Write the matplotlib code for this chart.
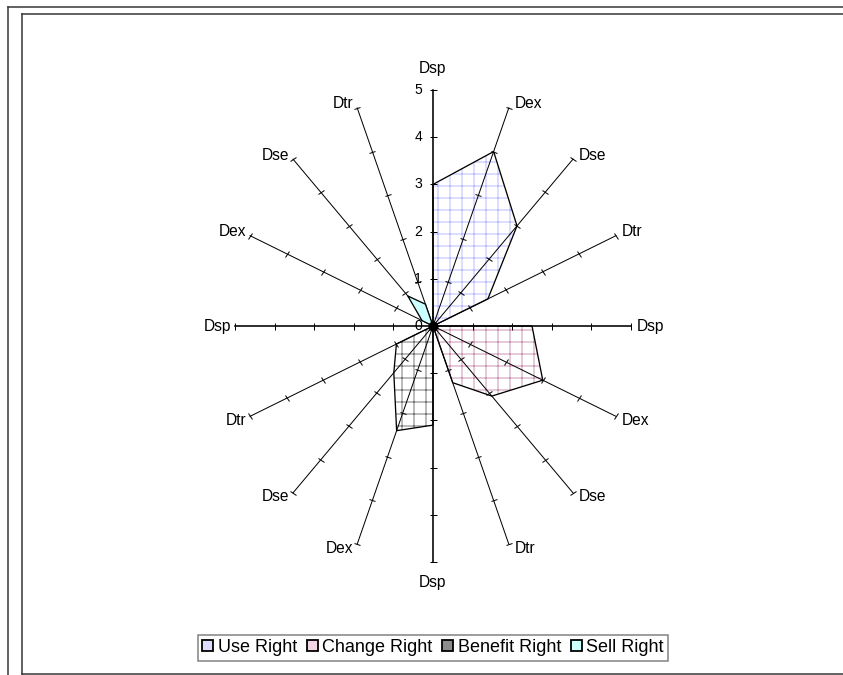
import numpy as np
import matplotlib.pyplot as plt
from matplotlib.markers import MarkerStyle
from matplotlib.patches import Patch
from matplotlib.lines import Line2D
from matplotlib.transforms import Affine2D

# spokes, clockwise from the top
categories = ["Dsp", "Dex", "Dse", "Dtr"] * 4
use_right = [3, 4, 3, 1.5, 0, 0, 0, 0, 0, 0, 0, 0, 0, 0, 0, 0]
change_right = [0, 0, 0, 0, 2.5, 3, 2.1, 1.3, 0, 0, 0, 0, 0, 0, 0, 0]
benefit_right = [0, 0, 0, 0, 0, 0, 0, 0, 2.1, 2.4, 1.4, 1.0, 0, 0, 0, 0]
sell_right = [0, 0, 0, 0, 0, 0, 0, 0, 0, 0, 0, 0, 0, 0.3, 0.9, 0.5]
series_names = ["Use Right", "Change Right", "Benefit Right", "Sell Right"]
tick_values = [0, 1, 2, 3, 4, 5]
r_max = 5

plt.rcParams['font.family'] = ['Liberation Sans', 'DejaVu Sans']
plt.rcParams['hatch.linewidth'] = 0.8

W, H = 843, 675
fig = plt.figure(figsize=(W / 72, H / 72), dpi=72)

# the original is squashed sideways, so x and y units differ
cx, cy = 433, H - 326
sx, sy = 39.6, 47.2
lim = 6
ax = fig.add_axes([(cx - lim * sx) / W, (cy - lim * sy) / H, 2 * lim * sx / W, 2 * lim * sy / H])
ax.set_xlim(-lim, lim)
ax.set_ylim(-lim, lim)
ax.axis('off')

theta = np.deg2rad(90 - 22.5 * np.arange(len(categories)))


def to_xy(vals, ang=theta):
    v = np.asarray(vals, dtype=float)
    return v * np.cos(ang), v * np.sin(ang)


# filled series
hatch_cols = ["#aaaaff", "#c07ca0", "#555555"]
for vals, hc in zip([use_right, change_right, benefit_right], hatch_cols):
    x, y = to_xy(vals)
    ax.fill(x, y, facecolor='none', edgecolor=hc, hatch='+', lw=0, zorder=1)
    ax.fill(x, y, facecolor='none', edgecolor='black', lw=1.3, zorder=4)
x, y = to_xy(sell_right)
ax.fill(x, y, facecolor='#ccffff', edgecolor='black', lw=1.3, zorder=4)

# spokes with tick marks
ticks_r = np.array(tick_values[1:], dtype=float)
for i, name in enumerate(categories):
    t = theta[i]
    xe, ye = to_xy(r_max, t)
    ax.plot([0, xe], [0, ye], color='black', lw=1.6 if name == "Dsp" else 1.0, zorder=3)
    phi = np.degrees(np.arctan2(np.sin(t) * sy, np.cos(t) * sx))
    m = MarkerStyle('|', transform=Affine2D().rotate_deg(phi))
    tx, ty = to_xy(ticks_r, t)
    ax.plot(tx, ty, ls='none', marker=m, ms=7, mew=1.0, color='black', zorder=3)

    c, s = np.cos(t), np.sin(t)
    if abs(c) < 0.1:
        off = (0, 22 if s > 0 else -20)
        ha = 'center'
    else:
        off = (6 if c > 0 else -4, 4 if s > 0.1 else (-4 if s < -0.1 else 0))
        ha = 'left' if c > 0 else 'right'
    ax.annotate(name, xy=(xe, ye), xytext=off, textcoords='offset pixels',
                ha=ha, va='center', fontsize=15.5)

# value labels on the top spoke
for v in tick_values:
    px, py = to_xy(v, theta[0])
    ax.annotate(str(v), xy=(px, py), xytext=(-11, 0), textcoords='offset pixels',
                ha='right', va='center', fontsize=14)

ox, oy = to_xy(0, 0.0)
ax.plot(ox, oy, 'o', ms=9, color='black', zorder=6)

handles = [Patch(facecolor=fc, edgecolor='black', lw=1.8)
           for fc in ["#dcdcff", "#f2d6e4", "#8c8c8c", "#ccffff"]]
leg = fig.legend(handles, series_names, loc='center', bbox_to_anchor=(433 / W, (H - 647.5) / H),
                 ncol=4, fancybox=False, framealpha=1, edgecolor='#808080',
                 prop={'family': 'Liberation Sans', 'size': 18},
                 handlelength=0.6, handleheight=0.6, handletextpad=0.25,
                 columnspacing=0.55, borderpad=0.25, borderaxespad=0)
leg.get_frame().set_linewidth(1.5)

# double frame around the chart
for xs, ys in [([8, 8], [0, H - 7]), ([8, W], [H - 7, H - 7]),
               ([22, 22], [1, H - 14]), ([22, W], [H - 14, H - 14]), ([22, W], [1, 1])]:
    fig.add_artist(Line2D(np.array(xs) / W, np.array(ys) / H, transform=fig.transFigure,
                          color='#333333', lw=1.5))

fig.savefig('out.png', dpi=72)
